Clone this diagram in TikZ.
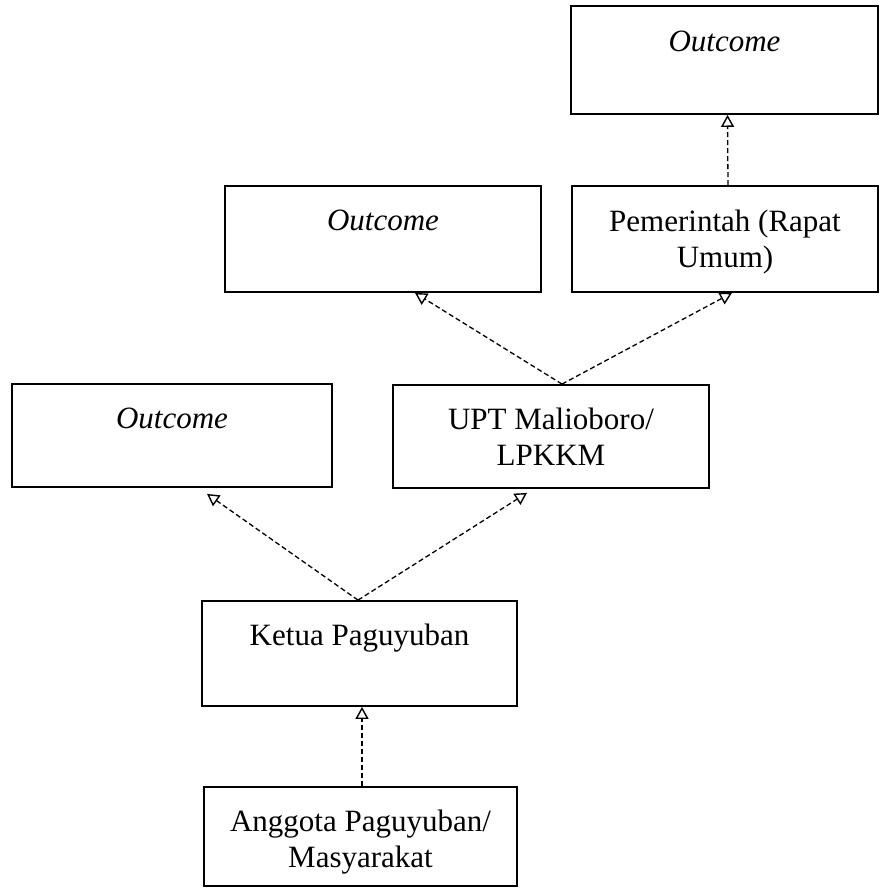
\documentclass[tikz,border=0pt]{standalone}
\usepackage{fontspec}
\setmainfont{Liberation Serif}
\usetikzlibrary{arrows.meta}

\begin{document}
\begin{tikzpicture}[x=1pt,y=-1pt,
  box/.style={draw, line width=1.8pt, rectangle, inner sep=0pt},
  txt/.style={anchor=north, inner sep=0pt, align=center,
              font=\fontsize{31}{36}\selectfont},
  flow/.style={line width=1.3pt, dash pattern=on 5pt off 3pt,
               -{Triangle[open, length=12pt, width=13pt, line width=1.4pt]}}
]
\useasboundingbox (0,0) rectangle (880,888);

% boxes
\node[box, minimum width=307pt, minimum height=108pt] (o3)  at (724.5,60)  {};
\node[box, minimum width=316pt, minimum height=106pt] (o2)  at (383,239)   {};
\node[box, minimum width=306pt, minimum height=106pt] (pem) at (725,239)   {};
\node[box, minimum width=320pt, minimum height=103pt] (o1)  at (172,435.5) {};
\node[box, minimum width=316pt, minimum height=103pt] (upt) at (551,436.5) {};
\node[box, minimum width=315pt, minimum height=105pt] (ket) at (359.5,653.5) {};
\node[box, minimum width=313pt, minimum height=99pt]  (ang) at (360.5,836.5) {};

% texts, set at the top of each box
\node[txt] (o3t)  at ([yshift=-26pt]o3.north)  {\itshape Outcome};
\node[txt] (o2t)  at ([yshift=-25pt]o2.north)  {\itshape Outcome};
\node[txt] (pemt) at ([yshift=-25pt]pem.north) {Pemerintah (Rapat\\Umum)};
\node[txt] (o1t)  at ([yshift=-25pt]o1.north)  {\itshape Outcome};
\node[txt] (uptt) at ([yshift=-24pt]upt.north) {UPT Malioboro/\\LPKKM};
\node[txt] (kett) at ([yshift=-24pt]ket.north) {Ketua Paguyuban};
\node[txt] (angt) at ([yshift=-24pt]ang.north) {Anggota Paguyuban/\\Masyarakat};

% connector end points
\coordinate (ketTop) at ([xshift=-1.5pt]ket.north);
\coordinate (uptTop) at ([xshift=11pt]upt.north);
\coordinate (o1Tip)  at ([xshift=35pt,yshift=-6pt]o1.south);
\coordinate (uptTip) at ([xshift=-24pt,yshift=-4pt]upt.south);
\coordinate (o2Tip)  at ([xshift=32pt]o2.south);
\coordinate (pemTip) at ([xshift=7pt]pem.south);
\coordinate (pemTop) at ([xshift=3pt]pem.north);
\coordinate (o3Tip)  at ([xshift=3pt]o3.south);
\coordinate (angTop) at ([xshift=1.5pt]ang.north);
\coordinate (ketTip) at ([xshift=2.5pt]ket.south);

% connectors
\draw[flow] (angTop) -- (ketTip);
\draw[flow] (ketTop) -- (o1Tip);
\draw[flow] (ketTop) -- (uptTip);
\draw[flow] (uptTop) -- (o2Tip);
\draw[flow] (uptTop) -- (pemTip);
\draw[flow] (pemTop) -- (o3Tip);
\end{tikzpicture}
\end{document}
